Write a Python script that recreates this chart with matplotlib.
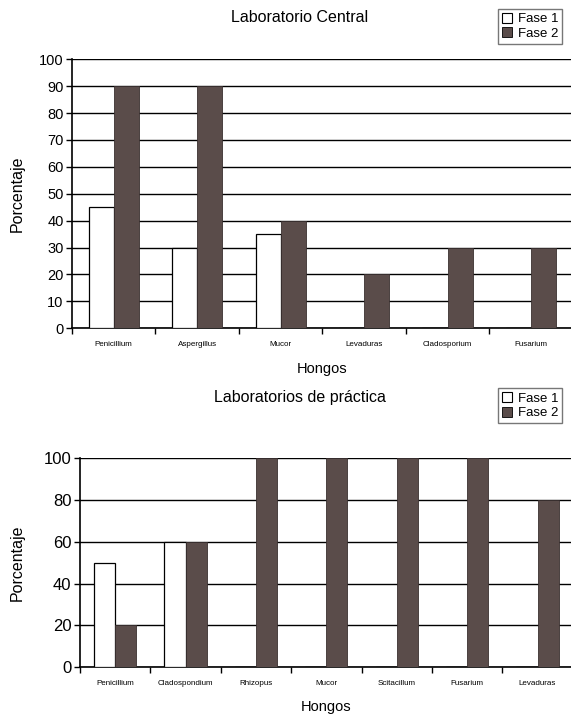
import numpy as np
import matplotlib.pyplot as plt
from matplotlib.patches import Patch

plt.rcParams['font.family'] = ['Liberation Sans', 'DejaVu Sans']

# Laboratorio Central
central_hongos = ['Penicillium', 'Aspergillus', 'Mucor', 'Levaduras', 'Cladosporium', 'Fusarium']
central_fase1 = [45, 30, 35, 0, 0, 0]
central_fase2 = [90, 90, 40, 20, 30, 30]

# Laboratorios de práctica
practica_hongos = ['Penicillium', 'Cladospondium', 'Rhizopus', 'Mucor', 'Scitacillum', 'Fusarium', 'Levaduras']
practica_fase1 = [50, 60, 0, 0, 0, 0, 0]
practica_fase2 = [20, 60, 100, 100, 100, 100, 80]

DARK = '#5a4c4a'


def draw_panel(ax, hongos, fase1, fase2, ystep, ytick_size, ylabel_x, title, title_y, legend_y):
    n = len(hongos)
    x = np.arange(n)
    w = 0.3
    ax.bar(x - w / 2, fase1, w, color='white', edgecolor='black', linewidth=0.9, zorder=3)
    ax.bar(x + w / 2, fase2, w, color=DARK, edgecolor='#3a3030', linewidth=0.6, zorder=3)

    ax.set_xlim(-0.5, n - 0.5)
    ax.set_ylim(0, 100)
    ax.set_yticks(np.arange(0, 101, ystep))
    ax.tick_params(axis='y', labelsize=ytick_size, length=4, width=1, pad=2)
    ax.yaxis.grid(True, color='black', linewidth=1.0, zorder=0)

    # group boundaries carry the tick marks, names sit in the middle
    ax.set_xticks(np.arange(n + 1) - 0.5)
    ax.set_xticklabels([])
    ax.tick_params(axis='x', which='major', length=4, width=1, direction='out')
    ax.set_xticks(x, minor=True)
    ax.set_xticklabels(hongos, minor=True, fontsize=5.8)
    ax.tick_params(axis='x', which='minor', length=0, pad=9)

    for s in ['top', 'right']:
        ax.spines[s].set_visible(False)
    ax.spines['left'].set_linewidth(1.2)
    ax.spines['bottom'].set_linewidth(1.2)

    ax.set_xlabel('Hongos', fontsize=10.5, labelpad=10)
    ax.set_ylabel('Porcentaje', fontsize=11.5)
    ax.yaxis.set_label_coords(ylabel_x, 0.5)

    fig.text(0.525, title_y, title, fontsize=11.5, ha='center', va='center')
    handles = [Patch(facecolor='white', edgecolor='black', linewidth=0.8, label='Fase 1'),
               Patch(facecolor=DARK, edgecolor='black', linewidth=0.6, label='Fase 2')]
    fig.legend(handles=handles, loc='upper left', bbox_to_anchor=(0.872, legend_y),
               fontsize=9.5, frameon=True, fancybox=False, edgecolor='#555555',
               handlelength=0.8, handleheight=0.8, handletextpad=0.4,
               borderpad=0.3, labelspacing=0.15, borderaxespad=0)


fig = plt.figure(figsize=(5.71, 7.15), dpi=100)

ax1 = fig.add_axes([0.126, 0.541, 0.877, 0.376])
draw_panel(ax1, central_hongos, central_fase1, central_fase2, 10, 10.5, -0.094,
           'Laboratorio Central', 0.975, 0.988)

ax2 = fig.add_axes([0.140, 0.067, 0.863, 0.292])
draw_panel(ax2, practica_hongos, practica_fase1, practica_fase2, 20, 12, -0.112,
           'Laboratorios de práctica', 0.444, 0.457)

fig.savefig('out.png', dpi=100)
